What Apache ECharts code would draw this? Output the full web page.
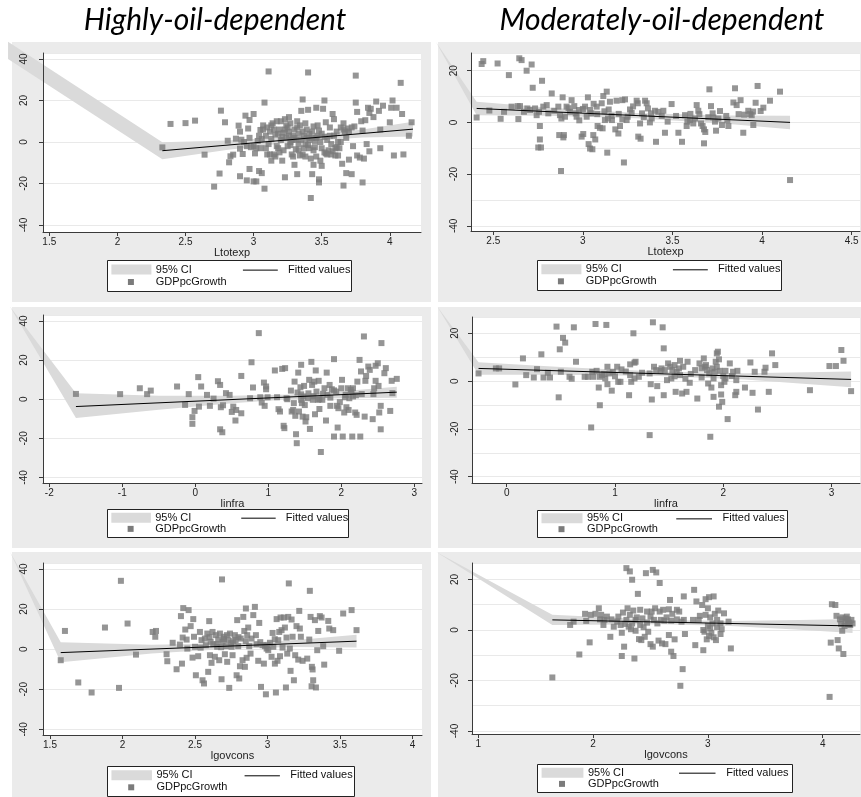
<!DOCTYPE html>
<html><head><meta charset="utf-8">
<script src="https://cdn.jsdelivr.net/npm/echarts@6/dist/echarts.min.js"></script>
<style>html,body{margin:0;padding:0;background:#fff}#c{width:861px;height:797px}</style>
</head><body><div id="c"></div><script>
// ---------------- DATA ----------------
const titles = ['Highly-oil-dependent', 'Moderately-oil-dependent'];
const legendLabels = ['95% CI', 'Fitted values', 'GDPpcGrowth'];
const xNames = ['Ltotexp', 'Ltotexp', 'linfra', 'linfra', 'lgovcons', 'lgovcons'];
const yTicksHigh = [-40, -20, 0, 20, 40];
const yTicksMod = [-40, -20, 0, 20];
const xTicksHiTotexp = [1.5, 2, 2.5, 3, 3.5, 4];
const xTicksModTotexp = [2.5, 3, 3.5, 4, 4.5];
const xTicksHiInfra = [-2, -1, 0, 1, 2, 3];
const xTicksModInfra = [0, 1, 2, 3];
const xTicksHiGov = [1.5, 2, 2.5, 3, 3.5, 4];
const xTicksModGov = [1, 2, 3, 4];

// Highly-oil-dependent, Ltotexp
const hiTotexpPts = [[2.33,-2.6],[2.39,8.7],[2.50,9.1],[2.57,10.3],[2.64,-6.1],[2.71,-21.5],[2.75,-15.2],[2.76,15.1],[2.79,9.5],[2.81,0.6],[2.82,-9.8],[2.83,-6.9],[2.85,-6.1],[2.87,1.6],[2.89,7.9],[2.90,5.0],[2.90,-3.2],[2.90,-16.5],[2.91,1.1],[2.92,-5.8],[2.94,12.7],[2.95,-18.5],[2.96,6.5],[2.97,10.6],[2.97,-13],[2.98,-2.5],[3.00,-19],[3.00,13.5],[3.01,-5.5],[3.02,-19],[3.03,0.5],[3.04,-14],[3.05,-3],[3.05,5.8],[3.06,-15],[3.07,8],[3.08,19],[3.08,-22.5],[3.09,3],[3.10,-6],[3.10,7],[3.11,34],[3.11,-1],[3.12,5],[3.13,-9],[3.13,1.5],[3.14,9],[3.15,-6],[3.16,3.5],[3.17,-2],[3.18,-3],[3.19,6],[3.20,1],[3.20,10],[3.21,-9],[3.22,4.5],[3.23,-17],[3.23,11],[3.24,2],[3.25,7],[3.25,-2],[3.26,5],[3.27,0],[3.27,9],[3.28,-6],[3.29,3],[3.30,6],[3.30,-11],[3.31,-3.5],[3.31,1],[3.32,7],[3.32,-15.5],[3.33,4],[3.34,-6.5],[3.35,15],[3.35,1],[3.36,20.5],[3.36,-6],[3.37,3],[3.38,-1],[3.38,9],[3.39,6],[3.40,33.5],[3.40,15.5],[3.41,-3],[3.41,4],[3.42,-8],[3.42,-27],[3.43,-15.5],[3.43,2],[3.44,-11],[3.44,7.5],[3.45,-2.5],[3.46,-7],[3.46,16.5],[3.47,3],[3.48,-18],[3.48,-19.5],[3.48,5.5],[3.49,0],[3.50,-11.5],[3.50,-3],[3.51,16],[3.52,20],[3.52,2.5],[3.53,9.5],[3.53,-5.5],[3.55,-4],[3.56,3],[3.57,-6],[3.58,13.5],[3.59,11],[3.60,-3],[3.60,-6.5],[3.61,5],[3.62,0],[3.63,-3],[3.64,7],[3.65,-10.5],[3.66,9],[3.66,-21],[3.67,5],[3.68,-15],[3.69,6.5],[3.70,-8.5],[3.72,-15.5],[3.73,-2],[3.74,7.5],[3.75,32],[3.75,19],[3.76,-6.5],[3.76,14.5],[3.78,-7.5],[3.79,10],[3.80,5.5],[3.80,-19.5],[3.81,-8],[3.82,10.5],[3.83,-1],[3.84,16.5],[3.85,14],[3.85,-4.5],[3.86,16],[3.88,12],[3.90,19.5],[3.92,15],[3.93,6],[3.93,-3],[3.95,17.5],[4.00,9.5],[4.01,16.5],[4.02,20],[4.03,-6.5],[4.05,16.5],[4.08,28.5],[4.09,13.5],[4.10,-6],[4.14,3],[4.16,9.5],[3.15,6],[3.18,4],[3.21,2.5],[3.24,8],[3.26,3],[3.28,1],[3.30,2],[3.33,-1],[3.34,8],[3.36,5],[3.39,2],[3.41,1],[3.43,5],[3.45,0.5],[3.47,8],[3.50,4],[3.54,1],[3.57,-1],[3.06,1.5],[3.09,-3],[3.12,-6],[3.16,-7],[3.19,-5],[3.22,-4],[3.27,-1.5],[3.29,-7],[3.33,-4],[3.38,-7],[3.44,-4],[3.52,-5],[3.58,-4.5],[3.62,-6.5],[3.00,-2],[3.02,-3],[2.95,-2],[2.93,0],[2.97,2],[3.04,3],[3.07,6],[3.13,8],[3.17,10],[3.23,6],[3.26,12],[3.32,10],[3.37,-3],[3.40,-1.5],[3.46,2],[3.49,-9],[3.54,-6],[3.56,7],[3.59,3],[3.61,-2.5],[3.64,0],[3.66,6],[3.70,5],[3.72,7],[3.68,2]];
const hiTotexpFitX = [2.33, 4.17];
const hiTotexpFitY = [-4.2, 6.2];
const hiTotexpCiX = [1.197, 2.33, 2.8, 3.3, 3.8, 4.17];
const hiTotexpCiUp = [48.3, -0.1, 0.76, 2.58, 6.0, 9.7];
const hiTotexpCiLo = [40.0, -8.3, -3.84, -0.02, 2.2, 2.7];

// Moderately-oil-dependent, Ltotexp
const modTotexpPts = [[2.407,1.9],[2.435,22.6],[2.444,23.7],[2.478,4.6],[2.524,22.8],[2.541,1.4],[2.560,4.1],[2.587,18.3],[2.602,6.1],[2.636,6.3],[2.640,1.3],[2.645,24.8],[2.658,24.1],[2.649,6.3],[2.671,4.1],[2.686,20.0],[2.690,5.4],[2.705,4.8],[2.714,22.4],[2.720,13.4],[2.733,5.4],[2.742,2.8],[2.755,4.1],[2.760,-1.4],[2.760,-6.6],[2.751,-9.7],[2.766,-9.7],[2.772,16.1],[2.779,6.1],[2.798,6.7],[2.807,3.5],[2.826,11.2],[2.863,6.1],[2.872,2.8],[2.868,-4.9],[2.878,-18.8],[2.887,9.7],[2.891,-5.8],[2.894,-4.9],[2.900,2.2],[2.909,6.1],[2.928,4.1],[2.937,8.6],[2.952,6.3],[2.965,2.2],[2.978,4.8],[2.993,-5.5],[3.002,-4.5],[3.012,6.1],[3.021,2.2],[3.028,9.7],[3.032,-8.4],[3.040,-10.1],[3.053,-10.4],[3.047,3.5],[3.058,-4.9],[3.069,-6.6],[3.077,6.1],[3.082,-1.4],[3.095,-2.1],[3.105,7.4],[3.114,10.2],[3.133,11.9],[3.110,-2.3],[3.123,0.9],[3.136,-11.7],[3.144,5.0],[3.151,8.0],[3.162,0.9],[3.181,-2.7],[3.188,8.4],[3.198,-4.3],[3.207,-1.4],[3.229,-15.5],[3.220,8.6],[3.235,8.9],[3.244,0.9],[3.263,5.0],[3.272,3.7],[3.300,8.4],[3.306,7.4],[3.309,-5.5],[3.322,-6.3],[3.319,-0.4],[3.330,3.5],[3.347,8.4],[3.356,7.4],[3.363,5.4],[3.374,0.0],[3.384,1.5],[3.402,4.5],[3.408,-7.5],[3.421,4.1],[3.449,4.5],[3.458,-4.0],[3.473,0.3],[3.495,7.1],[3.533,-4.0],[3.553,-7.5],[3.570,2.8],[3.579,-1.4],[3.583,0.3],[3.598,0.9],[3.616,-0.4],[3.626,1.5],[3.635,6.7],[3.644,4.5],[3.650,3.2],[3.659,-0.4],[3.668,-1.4],[3.676,-2.7],[3.683,-3.7],[3.676,-8.1],[3.706,12.8],[3.715,6.3],[3.724,3.5],[3.728,1.9],[3.737,0.3],[3.743,-3.2],[3.756,1.5],[3.765,4.4],[3.776,-1.0],[3.806,0.9],[3.812,-1.4],[3.840,7.7],[3.849,13.2],[3.858,6.7],[3.869,3.2],[3.880,8.6],[3.895,-4.0],[3.923,4.5],[3.933,3.2],[3.942,2.8],[3.951,-1.0],[3.964,7.6],[3.975,14.1],[3.992,4.4],[4.007,5.7],[4.044,8.4],[4.100,11.9],[4.156,-22.3],[2.84,4.5],[2.92,5.5],[2.96,3.5],[3.0,5.2],[3.04,4.8],[3.08,3.2],[3.12,4.3],[3.16,2.5],[3.2,3.3],[3.25,2.2],[3.28,6.2],[3.34,2.0],[3.38,3.5],[3.44,2.5],[3.52,2.5],[3.6,3.3],[3.7,2.0],[3.8,2.5],[3.9,3.0],[3.95,4.2],[2.98,0.8],[3.06,7.2],[3.14,1.5],[3.22,1.2],[2.88,1.5]];
const modTotexpFitX = [2.407, 4.156];
const modTotexpFitY = [5.4, 0.0];
const modTotexpCiX = [2.18, 2.407, 2.8, 3.3, 3.8, 4.156];
const modTotexpCiUp = [31.1, 8.0, 5.8, 3.64, 2.7, 2.6];
const modTotexpCiLo = [31.1, 2.8, 2.6, 1.64, -0.5, -2.6];

// Highly-oil-dependent, linfra
const hiInfraPts = [[-1.635,2.7],[-1.03,2.6],[-0.76,5.6],[-0.66,2.6],[-0.61,4.4],[-0.25,6.5],[-0.14,-2.9],[-0.09,2.6],[-0.04,-9.2],[-0.04,-12.6],[-0.01,-6.0],[0.04,11.3],[0.05,-3.8],[0.08,6.5],[0.16,2.2],[0.20,-3.4],[0.25,0.3],[0.31,9.2],[0.34,7.3],[0.34,-15.4],[0.37,-16.9],[0.35,-4.1],[0.38,-3.1],[0.42,3.1],[0.47,2.2],[0.50,-6.5],[0.52,-3.8],[0.55,-10.9],[0.56,-5.5],[0.63,11.9],[0.63,-7.2],[0.75,0.5],[0.77,18.9],[0.79,6.0],[0.87,33.8],[0.89,1.0],[0.91,-1.7],[0.94,8.5],[0.95,-3.4],[0.97,6.5],[0.97,5.1],[0.99,1.0],[1.09,14.7],[1.12,1.0],[1.14,-5.1],[1.16,-6.3],[1.19,15.5],[1.21,-13.6],[1.22,-14.8],[1.23,15.9],[1.25,0.5],[1.26,0],[1.31,4.4],[1.32,-6.3],[1.34,-5.5],[1.36,9.0],[1.35,-2.0],[1.37,-8.5],[1.38,-17.9],[1.39,-22.5],[1.40,3.4],[1.41,13.6],[1.42,-6.3],[1.44,6.1],[1.45,17.6],[1.45,-0.3],[1.46,-2.0],[1.47,-8.9],[1.48,1.4],[1.49,6.8],[1.51,-11.4],[1.52,-9.2],[1.54,0.5],[1.56,9.9],[1.57,-15.2],[1.59,19.1],[1.60,7.3],[1.61,-0.3],[1.63,9.0],[1.64,-7.7],[1.65,14.7],[1.66,3.9],[1.68,-0.3],[1.69,9.4],[1.70,0],[1.72,-27.0],[1.74,-0.3],[1.77,5.6],[1.79,-10.9],[1.80,13.6],[1.81,2.2],[1.84,7.3],[1.85,-3.4],[1.87,5.1],[1.90,20.5],[1.90,-19.1],[1.93,3.9],[1.94,-3.4],[1.95,-14.5],[1.96,-4.6],[2.00,5.6],[2.01,9.9],[2.02,-19.1],[2.04,-6.8],[2.06,2.2],[2.07,-4.1],[2.09,5.6],[2.10,-5.5],[2.11,0.5],[2.13,4.8],[2.15,-19.1],[2.16,5.6],[2.16,1.4],[2.19,-6.8],[2.21,-8.0],[2.22,9.0],[2.25,20.1],[2.26,-19.1],[2.27,14.2],[2.28,2.6],[2.31,32.1],[2.32,-8.9],[2.33,9.4],[2.34,11.9],[2.37,16.7],[2.39,15.0],[2.43,-10.2],[2.44,2.6],[2.45,5.6],[2.47,17.1],[2.47,9.4],[2.50,18.4],[2.51,6.8],[2.52,-6.8],[2.54,-3.4],[2.54,-15.4],[2.55,28.7],[2.59,13.3],[2.61,15.9],[2.67,-6.0],[2.69,9.4],[2.70,3.1],[2.76,10.4],[1.55,3.0],[1.62,1.5],[1.75,2.8],[1.85,0.8],[1.98,-1.5],[2.05,1.0],[1.50,-3.0],[1.45,2.5],[2.14,3.5],[1.70,-5.0],[1.9,4.5],[2.2,2.0]];
const hiInfraFitX = [-1.635, 2.76];
const hiInfraFitY = [-3.75, 3.6];
const hiInfraCiX = [-2.54, -1.635, -0.5, 0.5, 1.3, 2.0, 2.76];
const hiInfraCiUp = [47.4, 3.0, 1.75, 1.73, 2.36, 4.13, 6.4];
const hiInfraCiLo = [47.4, -9.6, -5.45, -2.07, -0.04, 0.53, 0.8];

// Moderately-oil-dependent, linfra
const modInfraPts = [[-0.26,3.2],[-0.10,5.3],[-0.07,5.3],[0.08,-1.4],[0.15,9.5],[0.18,2.5],[0.25,1.5],[0.28,5.0],[0.32,11.2],[0.34,1.5],[0.38,3.5],[0.40,1.5],[0.46,22.8],[0.48,-6.8],[0.49,13.3],[0.50,3.9],[0.52,18.1],[0.54,16.1],[0.58,1.8],[0.60,1.0],[0.62,22.5],[0.64,8.1],[0.72,1.8],[0.75,1.8],[0.78,-19.4],[0.79,3.9],[0.80,1.8],[0.82,23.9],[0.83,4.3],[0.85,-2.7],[0.86,1.8],[0.86,-10.1],[0.91,1.1],[0.92,23.5],[0.93,6.0],[0.93,-1.3],[0.95,3.2],[0.97,-4.0],[0.98,3.9],[1.02,6.0],[1.03,-0.3],[1.05,-0.3],[1.06,4.9],[1.13,-5.9],[1.14,2.5],[1.14,7.0],[1.15,-0.3],[1.17,20.0],[1.18,7.7],[1.18,1.1],[1.19,8.1],[1.22,1.8],[1.32,3.2],[1.33,-1.3],[1.34,-7.7],[1.35,24.6],[1.32,-22.6],[1.36,6.0],[1.38,4.6],[1.39,-2.1],[1.42,4.3],[1.43,5.3],[1.44,22.5],[1.45,13.7],[1.45,-5.9],[1.46,4.6],[1.48,0.4],[1.49,7.4],[1.51,6.0],[1.52,1.1],[1.53,4.6],[1.55,6.7],[1.56,-4.5],[1.57,3.9],[1.59,5.3],[1.60,8.5],[1.62,-5.2],[1.63,6.0],[1.66,-4.5],[1.67,8.1],[1.69,-0.7],[1.74,4.6],[1.76,-7.3],[1.78,7.4],[1.80,5.3],[1.82,9.5],[1.83,6.0],[1.84,6.7],[1.85,4.6],[1.86,-1.0],[1.87,3.2],[1.88,-23.3],[1.89,-2.7],[1.90,5.3],[1.91,1.1],[1.91,-6.6],[1.92,3.9],[1.93,8.1],[1.94,11.6],[1.94,6.0],[1.95,12.3],[1.96,9.1],[1.96,-10.7],[1.97,4.3],[1.98,-5.6],[1.98,-1.7],[1.99,-8.7],[2.00,2.1],[2.01,-0.3],[2.02,1.1],[2.02,4.3],[2.04,-15.9],[2.06,7.4],[2.08,2.1],[2.09,3.9],[2.11,-5.9],[2.12,-4.5],[2.12,0.4],[2.13,4.3],[2.20,-2.7],[2.25,7.8],[2.27,-4.9],[2.29,3.9],[2.32,-11.9],[2.38,3.9],[2.39,5.6],[2.42,-4.5],[2.45,11.6],[2.48,6.7],[2.80,-3.8],[2.98,6.3],[3.04,6.3],[3.09,13.0],[3.11,8.5],[3.18,-4.2],[0.9,3.0],[1.0,2.0],[1.1,4.0],[1.25,3.5],[1.6,2.5],[1.7,3.0],[1.8,1.5],[1.65,1.0],[1.55,2.0],[0.88,2.5]];
const modInfraFitX = [-0.26, 3.18];
const modInfraFitY = [5.3, 0.7];
const modInfraCiX = [-0.64, -0.26, 0.5, 1.4, 2.2, 3.18];
const modInfraCiUp = [31.1, 7.9, 5.9, 3.98, 3.3, 4.0];
const modInfraCiLo = [31.1, 2.7, 2.7, 2.18, 0.7, -2.6];

// Highly-oil-dependent, lgovcons
const hiGovPts = [[1.574,-5.5],[1.603,9.1],[1.695,-16.6],[1.787,-21.6],[1.879,10.8],[1.976,-19.3],[1.989,34.1],[2.035,12.8],[2.093,-2.7],[2.208,8.6],[2.231,9.1],[2.226,6.2],[2.304,-2.5],[2.309,-6.0],[2.346,3.2],[2.373,-10.0],[2.396,2.3],[2.403,16.5],[2.410,-7.2],[2.415,5.8],[2.419,20.5],[2.433,9.8],[2.442,4.8],[2.447,0.3],[2.456,19.5],[2.470,11.5],[2.483,-4.2],[2.488,15.0],[2.493,6.2],[2.500,1.2],[2.506,-13.0],[2.522,-3.5],[2.534,8.6],[2.539,0.8],[2.545,4.5],[2.552,-15.5],[2.562,-17.1],[2.568,5.3],[2.575,2.0],[2.585,7.8],[2.591,-11.3],[2.598,14.0],[2.603,-3.0],[2.608,3.7],[2.614,-6.8],[2.621,8.6],[2.626,2.5],[2.637,-3.8],[2.644,7.0],[2.653,1.2],[2.660,4.8],[2.667,-5.5],[2.672,7.8],[2.683,-15.0],[2.686,34.8],[2.690,3.7],[2.699,6.2],[2.706,-2.5],[2.713,1.5],[2.722,-6.3],[2.729,4.5],[2.736,-19.3],[2.741,7.8],[2.752,1.2],[2.759,-3.0],[2.764,4.0],[2.775,7.0],[2.787,-13.0],[2.791,14.5],[2.798,1.5],[2.805,-14.6],[2.810,-8.5],[2.815,5.3],[2.828,-5.5],[2.833,16.1],[2.840,9.1],[2.844,-8.8],[2.851,20.3],[2.856,-4.3],[2.860,7.0],[2.867,10.8],[2.874,1.5],[2.883,-2.2],[2.890,5.3],[2.902,17.0],[2.913,21.1],[2.920,7.0],[2.925,2.5],[2.936,-5.8],[2.943,13.1],[2.955,-18.8],[2.966,2.0],[2.975,-7.2],[2.982,1.5],[2.989,-22.5],[2.994,0.3],[3.005,-0.5],[3.017,3.2],[3.028,-3.8],[3.035,8.1],[3.040,1.2],[3.051,-7.2],[3.058,-21.6],[3.063,15.0],[3.069,-5.8],[3.074,4.5],[3.081,8.6],[3.086,-3.5],[3.090,15.8],[3.097,9.5],[3.104,0.8],[3.113,15.8],[3.120,10.8],[3.127,-19.1],[3.131,5.8],[3.136,-2.2],[3.143,16.1],[3.147,32.8],[3.154,0.3],[3.159,-10.8],[3.166,14.8],[3.173,6.2],[3.182,-15.5],[3.191,-3.0],[3.200,11.5],[3.212,-5.2],[3.219,19.1],[3.223,10.3],[3.230,6.2],[3.242,-5.8],[3.274,-4.7],[3.288,4.8],[3.292,29.1],[3.297,16.1],[3.304,-18.5],[3.306,-8.8],[3.311,-10.1],[3.315,-15.5],[3.327,14.5],[3.334,-19.1],[3.343,-0.5],[3.350,9.1],[3.361,16.5],[3.373,15.8],[3.384,1.5],[3.391,-7.7],[3.419,14.1],[3.426,10.3],[3.453,9.5],[3.494,-0.8],[3.522,17.8],[3.580,19.5],[3.614,9.5],[2.70,5.0],[2.75,3.0],[2.80,6.0],[2.65,2.5],[2.60,6.0],[2.85,4.0],[2.95,3.5],[3.0,2.0],[3.05,5.0],[2.72,7.0],[2.68,1.0],[2.78,4.5]];
const hiGovFitX = [1.574, 3.614];
const hiGovFitY = [-1.7, 4.0];
const hiGovCiX = [1.224, 1.574, 2.2, 2.8, 3.2, 3.614];
const hiGovCiUp = [48.6, 3.5, 2.25, 2.93, 4.54, 7.2];
const hiGovCiLo = [48.6, -6.5, -2.15, 0.53, 1.14, 0.8];

// Moderately-oil-dependent, lgovcons
const modGovPts = [[1.645,-18.8],[1.80,2.0],[1.83,3.3],[1.88,-9.7],[1.93,6.4],[1.94,3.6],[1.97,-4.9],[1.98,6.0],[2.02,6.4],[2.05,8.6],[2.06,4.2],[2.07,6.0],[2.09,2.0],[2.10,4.0],[2.12,5.3],[2.15,-2.7],[2.16,4.2],[2.18,1.3],[2.21,3.3],[2.22,5.3],[2.24,2.0],[2.25,-1.1],[2.25,-10.3],[2.26,6.9],[2.27,-6.6],[2.28,2.4],[2.29,4.0],[2.29,24.5],[2.30,8.6],[2.31,1.3],[2.32,23.2],[2.32,6.0],[2.33,0.3],[2.34,19.9],[2.34,2.6],[2.35,7.7],[2.36,-11.3],[2.37,4.0],[2.37,-0.3],[2.38,5.0],[2.39,14.3],[2.40,-3.6],[2.41,2.0],[2.41,8.0],[2.42,-4.0],[2.43,4.6],[2.44,1.1],[2.45,-2.7],[2.46,22.5],[2.47,7.3],[2.47,2.9],[2.48,-0.7],[2.50,5.3],[2.50,-5.6],[2.51,7.3],[2.52,-6.6],[2.52,23.8],[2.53,4.0],[2.54,8.6],[2.55,22.8],[2.56,2.6],[2.57,-4.2],[2.58,7.3],[2.58,18.6],[2.59,4.0],[2.60,-5.3],[2.61,8.0],[2.62,3.7],[2.63,-5.6],[2.64,5.0],[2.66,8.2],[2.66,-2.0],[2.67,11.9],[2.68,3.7],[2.68,-8.6],[2.69,6.4],[2.70,-10.3],[2.71,-3.7],[2.73,8.0],[2.73,4.2],[2.75,7.3],[2.76,-22.1],[2.77,3.3],[2.78,-15.5],[2.79,13.3],[2.79,4.0],[2.80,-1.6],[2.87,4.0],[2.88,15.9],[2.89,-6.0],[2.90,11.3],[2.92,4.0],[2.93,5.6],[2.95,9.9],[2.96,-8.0],[2.96,0],[2.97,-0.7],[2.98,12.2],[2.98,6.0],[2.99,-3.7],[3.00,8.6],[3.00,1.6],[3.01,-2.4],[3.01,13.0],[3.02,5.0],[3.02,0.7],[3.03,-1.1],[3.04,2.6],[3.05,13.3],[3.05,-2.9],[3.06,6.4],[3.07,-4.0],[3.08,1.1],[3.08,4.0],[3.09,7.7],[3.11,-1.6],[3.11,2.6],[3.12,0.3],[3.14,6.6],[3.18,3.3],[3.20,-7.3],[4.08,10.2],[4.11,9.9],[4.07,-5.0],[4.12,5.6],[4.13,-4.0],[4.14,-7.3],[4.15,4.2],[4.16,2.4],[4.17,5.0],[4.17,-0.3],[4.18,-9.5],[4.19,1.6],[4.20,4.6],[4.20,3.3],[4.21,5.3],[4.22,2.4],[4.22,4.2],[4.23,2.9],[4.24,2.0],[4.25,4.0],[4.26,2.6],[4.06,-26.5]];
const modGovFitX = [1.645, 4.26];
const modGovFitY = [4.0, 1.6];
const modGovCiX = [0.63, 1.645, 2.6, 3.2, 3.8, 4.26];
const modGovCiUp = [31.0, 6.0, 3.92, 3.57, 3.92, 4.4];
const modGovCiLo = [31.0, 2.0, 2.32, 1.57, 0.12, -1.2];

// ---------------- LAYOUT ----------------
const FONT = '"Liberation Sans", Arial, sans-serif';
const layouts = [
  {bg:[12,42,419,260], grid:[43,53,378,179], x:[1.4537,4.2290], y:[-43.38,42.89], leg:[107,260,244,31], yLm:14, nGap:14},
  {bg:[438,42,423,260], grid:[471,53,389,178], x:[2.3756,4.5464], y:[-42.01,26.85], leg:[537,260,244,30], yLm:12, nGap:14},
  {bg:[12,307,419,241], grid:[43,315,379,168], x:[-2.0863,3.1055], y:[-42.86,43.07], leg:[107,509,241,28], yLm:14, nGap:13},
  {bg:[438,307,423,241], grid:[472,317,388,166], x:[-0.3204,3.2622], y:[-42.64,26.82], leg:[537,510,250,27], yLm:12, nGap:13},
  {bg:[12,552,419,245], grid:[43,563,379,172], x:[1.4517,4.0655], y:[-42.8,42.99], leg:[107,766,247,30], yLm:14, nGap:13},
  {bg:[438,552,423,245], grid:[472,563,388,171], x:[0.9451,4.3249], y:[-41.19,26.53], leg:[537,764,255,28], yLm:12, nGap:13}
];

const panels = [
  {pts:hiTotexpPts, fx:hiTotexpFitX, fy:hiTotexpFitY, cx:hiTotexpCiX, cu:hiTotexpCiUp, cl:hiTotexpCiLo, xt:xTicksHiTotexp, yt:yTicksHigh},
  {pts:modTotexpPts, fx:modTotexpFitX, fy:modTotexpFitY, cx:modTotexpCiX, cu:modTotexpCiUp, cl:modTotexpCiLo, xt:xTicksModTotexp, yt:yTicksMod},
  {pts:hiInfraPts, fx:hiInfraFitX, fy:hiInfraFitY, cx:hiInfraCiX, cu:hiInfraCiUp, cl:hiInfraCiLo, xt:xTicksHiInfra, yt:yTicksHigh},
  {pts:modInfraPts, fx:modInfraFitX, fy:modInfraFitY, cx:modInfraCiX, cu:modInfraCiUp, cl:modInfraCiLo, xt:xTicksModInfra, yt:yTicksMod},
  {pts:hiGovPts, fx:hiGovFitX, fy:hiGovFitY, cx:hiGovCiX, cu:hiGovCiUp, cl:hiGovCiLo, xt:xTicksHiGov, yt:yTicksHigh},
  {pts:modGovPts, fx:modGovFitX, fy:modGovFitY, cx:modGovCiX, cu:modGovCiUp, cl:modGovCiLo, xt:xTicksModGov, yt:yTicksMod}
];

const PANEL_BG = '#ebebeb', CI_FILL = '#dadada', MARK = '#7b7b7b', AX = '#3a3a3a', GRIDC = '#e9e9e9';

const grids = [], xAxes = [], yAxes = [], series = [], graphics = [];

titles.forEach((t, k) => {
  graphics.push({type:'text', x:[215, 662][k], y:20, z:50, silent:true, style:{text:t, fontFamily:'Lato', fontStyle:'italic', fontSize:30, fill:'#000', align:'center', verticalAlign:'middle'}});
});

panels.forEach((p, i) => {
  const L = layouts[i];
  graphics.push({type:'rect', z:-10, silent:true, shape:{x:L.bg[0], y:L.bg[1], width:L.bg[2], height:L.bg[3]}, style:{fill:PANEL_BG}});
  grids.push({left:L.grid[0], top:L.grid[1], width:L.grid[2], height:L.grid[3], show:true, backgroundColor:'#fff', borderWidth:0, containLabel:false, outerBoundsMode:'none'});
  xAxes.push({
    gridIndex:i, type:'value', min:L.x[0], max:L.x[1], z:5,
    name:xNames[i], nameLocation:'middle', nameGap:L.nGap,
    nameTextStyle:{fontFamily:FONT, fontSize:11, color:'#222'},
    axisLine:{show:true, onZero:false, lineStyle:{color:AX, width:1}},
    axisTick:{show:true, inside:false, length:4, customValues:p.xt, lineStyle:{color:AX, width:1}},
    axisLabel:{show:true, customValues:p.xt, margin:5, fontFamily:FONT, fontSize:10, color:'#222', formatter:v=>String(v)},
    splitLine:{show:false}
  });
  // main y axis (drawn above the series)
  yAxes.push({
    gridIndex:i, type:'value', min:L.y[0], max:L.y[1], position:'left', z:5,
    axisLine:{show:true, onZero:false, lineStyle:{color:AX, width:1}},
    axisTick:{show:true, inside:false, length:4, customValues:p.yt, lineStyle:{color:AX, width:1}},
    axisLabel:{show:true, customValues:p.yt, rotate:90, margin:L.yLm, fontFamily:FONT, fontSize:10, color:'#222', formatter:v=>String(v)},
    splitLine:{show:false}
  });
  // companion y axis only for the grid lines (drawn below the series)
  yAxes.push({
    gridIndex:i, type:'value', min:L.y[0], max:L.y[1], position:'right', z:0,
    axisLine:{show:false}, axisTick:{show:false}, axisLabel:{show:false},
    splitLine:{show:true, customValues:p.yt, lineStyle:{color:GRIDC, width:1}}
  });
  const yi = 2 * i;
  const ciData = p.cx.map((x, k) => [x, p.cu[k], p.cl[k]]);
  series.push({
    type:'custom', xAxisIndex:i, yAxisIndex:yi, clip:false, silent:true, z:1,
    data:ciData, encode:{x:0, y:[1,2]},
    renderItem:(params, api) => {
      if (params.dataIndex !== 0) return null;
      const pts = [];
      for (let k = 0; k < p.cx.length; k++) pts.push(api.coord([p.cx[k], p.cu[k]]));
      for (let k = p.cx.length - 1; k >= 0; k--) pts.push(api.coord([p.cx[k], p.cl[k]]));
      return {type:'polygon', shape:{points:pts}, style:{fill:CI_FILL}};
    }
  });
  series.push({type:'scatter', xAxisIndex:i, yAxisIndex:yi, data:p.pts, symbol:'rect', symbolSize:6, itemStyle:{color:MARK}, silent:true, z:2});
  series.push({type:'line', xAxisIndex:i, yAxisIndex:yi, data:p.fx.map((x,k)=>[x,p.fy[k]]), symbol:'none', lineStyle:{color:'#000', width:1}, silent:true, z:3});

  // legend box
  const [bx, by, bw, bh] = L.leg;
  const r1 = by + bh*0.31, r2 = by + bh*0.71;
  const ts = {fontFamily:FONT, fontSize:11, fill:'#111', verticalAlign:'middle', align:'left'};
  graphics.push({type:'rect', z:100, silent:true, shape:{x:bx+0.5, y:by+0.5, width:bw, height:bh}, style:{fill:'#fff', stroke:'#222', lineWidth:1}});
  graphics.push({type:'rect', z:101, silent:true, shape:{x:bx+bw*0.018, y:r1-5, width:bw*0.164, height:10}, style:{fill:CI_FILL}});
  graphics.push({type:'text', z:101, silent:true, x:bx+bw*0.2, y:r1, style:Object.assign({text:legendLabels[0]}, ts)});
  graphics.push({type:'line', z:101, silent:true, shape:{x1:bx+bw*0.557, y1:r1+0.5, x2:bx+bw*0.70, y2:r1+0.5}, style:{stroke:'#000', lineWidth:1}});
  graphics.push({type:'text', z:101, silent:true, x:bx+bw*0.742, y:r1, style:Object.assign({text:legendLabels[1]}, ts)});
  graphics.push({type:'rect', z:101, silent:true, shape:{x:bx+bw*0.098-3, y:r2-3, width:6, height:6}, style:{fill:MARK}});
  graphics.push({type:'text', z:101, silent:true, x:bx+bw*0.2, y:r2, style:Object.assign({text:legendLabels[2]}, ts)});
});

const chart = echarts.init(document.getElementById('c'), null, {renderer:'canvas'});
chart.setOption({
  animation:false,
  backgroundColor:'#fff',
  grid:grids, xAxis:xAxes, yAxis:yAxes, series:series,
  graphic:{elements:graphics}
});
</script></body></html>
